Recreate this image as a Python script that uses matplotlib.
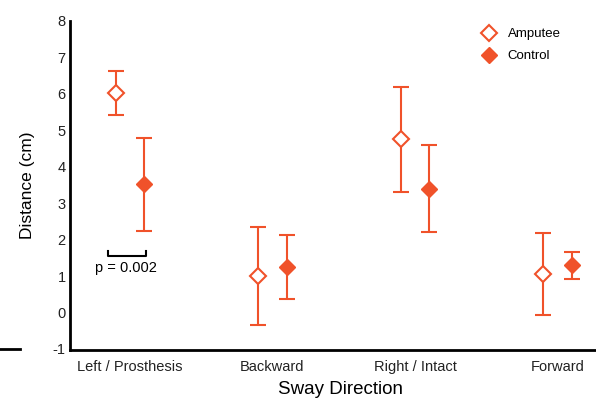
import matplotlib.pyplot as plt
from matplotlib.lines import Line2D
import numpy as np

plt.rcParams["font.family"] = ["Liberation Sans", "DejaVu Sans"]
plt.rcParams["axes.unicode_minus"] = False

directions = ["Left / Prosthesis", "Backward", "Right / Intact", "Forward"]
amputee_mean = [6.02, 1.0, 4.75, 1.05]
amputee_err = [0.6, 1.35, 1.43, 1.12]
control_mean = [3.52, 1.25, 3.4, 1.3]
control_err = [1.28, 0.87, 1.2, 0.37]

color = "#F0522A"

fig = plt.figure(figsize=(5.96, 3.98), dpi=100)
ax = fig.add_axes([70 / 596, 1 - 350 / 398, 1 - 70 / 596, (350 - 21) / 398])

x = np.arange(len(directions))
ax.errorbar(x - 0.1, amputee_mean, yerr=amputee_err, fmt="D", color=color,
            mfc="white", mec=color, mew=1.5, ms=8, elinewidth=1.5, capsize=6,
            capthick=1.5, label="Amputee")
ax.errorbar(x + 0.1, control_mean, yerr=control_err, fmt="D", color=color,
            mfc=color, mec=color, ms=8, elinewidth=1.5, capsize=6,
            capthick=1.5, label="Control")

ax.set_xlim(-0.42, 3.27)
ax.set_ylim(-1.03, 7.89)
ax.set_yticks(range(-1, 9))
ax.set_xticks(x)
ax.set_xticklabels(directions)
ax.tick_params(length=0, labelsize=10.5, colors="#222222")
ax.tick_params(axis="y", pad=3)
ax.tick_params(axis="x", pad=7)

for side in ["top", "right"]:
    ax.spines[side].set_visible(False)
ax.spines["left"].set_linewidth(2)
ax.spines["bottom"].set_linewidth(2)

ax.set_ylabel("Distance (cm)", fontsize=12.5)
ax.yaxis.set_label_coords(-0.066, 0.5)
ax.set_xlabel("Sway Direction", fontsize=13.5)
ax.xaxis.set_label_coords(0.515, -0.094)

# significance bracket
ax.plot([-0.154, -0.154, 0.112, 0.112], [1.68, 1.55, 1.55, 1.68], color="black", lw=1.5)
ax.text(-0.03, 1.22, "p = 0.002", ha="center", va="center", fontsize=10.5)

handles = [
    Line2D([], [], marker="D", ls="none", color=color, mfc="white", mew=1.5, ms=8),
    Line2D([], [], marker="D", ls="none", color=color, mfc=color, ms=8),
]
ax.legend(handles, ["Amputee", "Control"], loc="upper left", frameon=False,
          bbox_to_anchor=(0.749, 1.015), fontsize=9.5, handletextpad=0.4,
          labelspacing=0.75)

fig.add_artist(Line2D([0, 20 / 596], [1 - 349 / 398, 1 - 349 / 398], color="black", lw=2))

fig.savefig("out.png", dpi=100)
